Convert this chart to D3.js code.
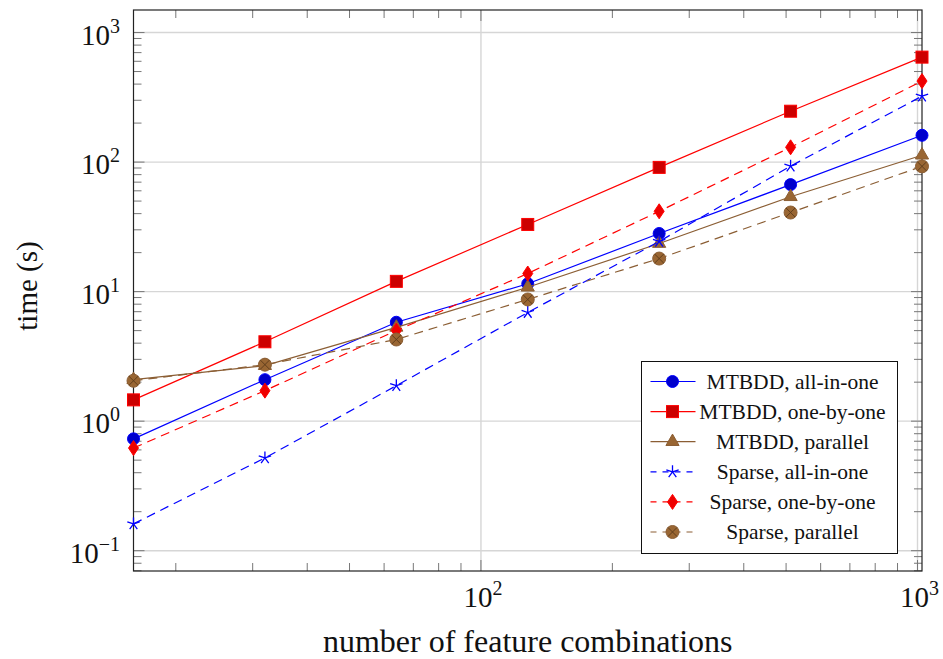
<!DOCTYPE html>
<html lang="en">
<head>
<meta charset="UTF-8">
<title>time vs feature combinations</title>
<script src="https://d3js.org/d3.v7.min.js"></script>
<style>
    body { margin: 0; background: #fff; }
    svg text { font-family: "Liberation Serif", "DejaVu Serif", serif; fill: #111; }
</style>
</head>
<body>
<div id="chart"></div>
<script>
    // x values (number of feature combinations)
    const combos = [16, 32, 64, 128, 256, 512, 1024];

    // times in seconds
    const mtbddAllInOne  = [0.73, 2.09, 5.8, 11.5, 28.1, 67, 161];
    const mtbddOneByOne  = [1.46, 4.1, 12.0, 33.0, 91, 247, 646];
    const mtbddParallel  = [2.09, 2.68, 5.3, 10.8, 23.5, 54, 113];
    const sparseAllInOne = [0.161, 0.52, 1.88, 6.9, 24.4, 93, 323];
    const sparseOneByOne = [0.62, 1.72, 5.0, 13.8, 41.7, 130, 422];
    const sparseParallel = [2.05, 2.73, 4.27, 8.7, 18.0, 40.8, 92.7];

    const seriesNames = ["MTBDD, all-in-one", "MTBDD, one-by-one", "MTBDD, parallel",
                         "Sparse, all-in-one", "Sparse, one-by-one", "Sparse, parallel"];

    const yTickValues = [0.1, 1, 10, 100, 1000];
    const xTickValues = [100, 1000];

    const width = 943, height = 659;
    const plotL = 133.5, plotR = 922, plotT = 10, plotB = 571;

    const brownLine = "#8b5e34", brownFill = "#996633";
    const styles = [
        { line: "#0000ff", fill: "#0000cc", dash: null, mark: "circle" },
        { line: "#ff0000", fill: "#cc0000", dash: null, mark: "square" },
        { line: brownLine, fill: brownFill, dash: null, mark: "triangle" },
        { line: "#0000ff", fill: "#0000ff", dash: "9,6", mark: "star" },
        { line: "#ff0000", fill: "#ee0000", dash: "9,6", mark: "diamond" },
        { line: brownLine, fill: brownFill, dash: "9,6", mark: "otimes" }
    ];
    const values = [mtbddAllInOne, mtbddOneByOne, mtbddParallel, sparseAllInOne, sparseOneByOne, sparseParallel];
    const series = seriesNames.map((name, i) => ({
        name: name, style: styles[i],
        points: combos.map((c, j) => ({ x: c, y: values[i][j] }))
    }));

    const svg = d3.select("#chart").append("svg")
        .attr("width", width).attr("height", height);

    const x = d3.scaleLog().domain([16, 1024]).range([plotL, plotR]);
    const y = d3.scaleLog().domain([0.0697, 1493]).range([plotB, plotT]);

    // grid lines (major only)
    const grid = svg.append("g");
    xTickValues.forEach(v => {
        grid.append("line").attr("x1", x(v)).attr("x2", x(v)).attr("y1", plotT).attr("y2", plotB)
            .attr("stroke", "#d6d6d6").attr("stroke-width", 1.4);
    });
    yTickValues.forEach(v => {
        grid.append("line").attr("x1", plotL).attr("x2", plotR).attr("y1", y(v)).attr("y2", y(v))
            .attr("stroke", "#d6d6d6").attr("stroke-width", 1.4);
    });

    // inward ticks on all four sides
    const isMajor = v => Math.abs(Math.log10(v) - Math.round(Math.log10(v))) < 1e-9;
    const ticks = svg.append("g").attr("stroke", "#777").attr("stroke-width", 1);
    x.ticks().filter(v => v > 16 && v < 1024).forEach(v => {
        const len = isMajor(v) ? 11 : 8;
        ticks.append("line").attr("x1", x(v)).attr("x2", x(v)).attr("y1", plotB).attr("y2", plotB - len);
        ticks.append("line").attr("x1", x(v)).attr("x2", x(v)).attr("y1", plotT).attr("y2", plotT + len);
    });
    y.ticks().filter(v => y(v) <= plotB && y(v) >= plotT).forEach(v => {
        const len = isMajor(v) ? 11 : 8;
        ticks.append("line").attr("x1", plotL).attr("x2", plotL + len).attr("y1", y(v)).attr("y2", y(v));
        ticks.append("line").attr("x1", plotR).attr("x2", plotR - len).attr("y1", y(v)).attr("y2", y(v));
    });

    // frame
    svg.append("rect").attr("x", plotL).attr("y", plotT)
        .attr("width", plotR - plotL).attr("height", plotB - plotT)
        .attr("fill", "none").attr("stroke", "#222").attr("stroke-width", 1.2);

    // tick labels
    function powLabel(sel, v) {
        const e = Math.round(Math.log10(v));
        sel.append("tspan").text("10");
        sel.append("tspan").attr("dy", -12).attr("font-size", 20)
            .text(e < 0 ? "\u2212" + (-e) : String(e));
    }
    yTickValues.forEach(v => {
        const t = svg.append("text").attr("x", 120).attr("y", y(v) + 12)
            .attr("text-anchor", "end").attr("font-size", 29);
        powLabel(t, v);
    });
    xTickValues.forEach(v => {
        const t = svg.append("text").attr("x", x(v) + 2).attr("y", 607)
            .attr("text-anchor", "middle").attr("font-size", 29);
        powLabel(t, v);
    });

    // axis labels
    svg.append("text").attr("x", (plotL + plotR) / 2).attr("y", 652)
        .attr("text-anchor", "middle").attr("font-size", 32)
        .text("number of feature combinations");
    svg.append("text").attr("transform", "translate(37," + 286 + ") rotate(-90)")
        .attr("text-anchor", "middle").attr("font-size", 29)
        .text("time (s)");

    // markers
    function drawMark(g, type, cx, cy, st) {
        if (type === "circle") {
            g.append("circle").attr("cx", cx).attr("cy", cy).attr("r", 6)
                .attr("fill", st.fill).attr("stroke", st.line).attr("stroke-width", 1);
        } else if (type === "square") {
            g.append("rect").attr("x", cx - 6).attr("y", cy - 6).attr("width", 12).attr("height", 12)
                .attr("fill", st.fill).attr("stroke", st.line).attr("stroke-width", 1);
        } else if (type === "triangle") {
            g.append("path").attr("d", d3.symbol(d3.symbolTriangle, 75)())
                .attr("transform", "translate(" + cx + "," + cy + ")")
                .attr("fill", st.fill).attr("stroke", st.line).attr("stroke-width", 1);
        } else if (type === "star") {
            let d = "";
            for (let k = 0; k < 5; k++) {
                const a = (-90 + k * 72) * Math.PI / 180;
                d += "M" + cx + "," + cy + "L" + (cx + 6.5 * Math.cos(a)) + "," + (cy + 6.5 * Math.sin(a));
            }
            g.append("path").attr("d", d).attr("stroke", st.line).attr("stroke-width", 1.3).attr("fill", "none");
        } else if (type === "diamond") {
            g.append("path").attr("d", `M${cx},${cy - 7.5}L${cx + 5},${cy}L${cx},${cy + 7.5}L${cx - 5},${cy}Z`)
                .attr("fill", st.fill).attr("stroke", st.line).attr("stroke-width", 1);
        } else if (type === "otimes") {
            g.append("circle").attr("cx", cx).attr("cy", cy).attr("r", 6.5)
                .attr("fill", st.fill).attr("stroke", st.line).attr("stroke-width", 1);
            const r = 4.6;
            g.append("path").attr("d", `M${cx - r},${cy - r}L${cx + r},${cy + r}M${cx - r},${cy + r}L${cx + r},${cy - r}`)
                .attr("stroke", "#5a3a1a").attr("stroke-width", 0.9);
        }
    }

    const line = d3.line().x(d => x(d.x)).y(d => y(d.y));
    const plot = svg.append("g");
    series.forEach(s => {
        plot.append("path").datum(s.points).attr("d", line)
            .attr("fill", "none").attr("stroke", s.style.line).attr("stroke-width", 1.2)
            .attr("stroke-dasharray", s.style.dash);
        const mg = plot.append("g");
        s.points.forEach(p => drawMark(mg, s.style.mark, x(p.x), y(p.y), s.style));
    });

    // legend
    const legX = 641.5, legY = 361.5, legW = 256, legH = 192, rowH = 30.1;
    const leg = svg.append("g");
    leg.append("rect").attr("x", legX).attr("y", legY).attr("width", legW).attr("height", legH)
        .attr("fill", "#fff").attr("stroke", "#111").attr("stroke-width", 1);
    series.forEach((s, i) => {
        const cy = legY + 20 + i * rowH;
        leg.append("line").attr("x1", legX + 9).attr("x2", legX + 54).attr("y1", cy).attr("y2", cy)
            .attr("stroke", s.style.line).attr("stroke-width", 1.2)
            .attr("stroke-dasharray", s.style.dash ? "6,6" : null);
        drawMark(leg, s.style.mark, legX + 31, cy, s.style);
        leg.append("text").attr("x", legX + 151).attr("y", cy + 7)
            .attr("text-anchor", "middle").attr("font-size", 21.5).text(s.name);
    });
</script>
</body>
</html>
